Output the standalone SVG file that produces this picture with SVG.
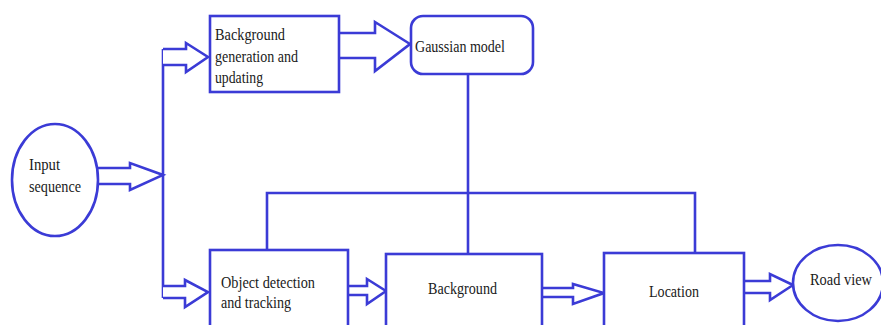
<svg xmlns="http://www.w3.org/2000/svg" width="881" height="325" viewBox="0 0 881 325">
  <style>
    .shape { fill: #ffffff; stroke: #3b3bd6; stroke-width: 2.6; }
    .wire { fill: none; stroke: #3b3bd6; stroke-width: 2.6; }
    .arrow { fill: #ffffff; stroke: #3b3bd6; stroke-width: 2.6; stroke-linejoin: miter; }
    text { font-family: 'Liberation Serif', 'DejaVu Serif', serif; font-size: 16px; fill: #1a1a1a; }
  </style>
  <rect width="881" height="325" fill="#ffffff"/>

  <!-- connectors: trunk lines and hollow block arrows -->
  <g id="connectors">
    <path class="wire" d="M163,49 V298"/>
    <path class="wire" d="M267,250 V193 H695 V253"/>
    <path class="wire" d="M468,74 V257"/>
    <path class="arrow" d="M98,168 H130 V163 L163,175 L130,190 V184 H98"/>
    <path class="arrow" d="M163,49 H186 V43 L208,57 L186,72 V65 H163"/>
    <path class="arrow" d="M339,33 H375 V22 L410,44 L375,71 V58 H339"/>
    <path class="arrow" d="M163,286 H185 V280 L208,292 L185,307 V298 H163"/>
    <path class="arrow" d="M348,286 H367 V279 L386,291 L367,304 V295 H348"/>
    <path class="arrow" d="M542,288 H573 V284 L604,293 L573,304 V297 H542"/>
    <path class="arrow" d="M744,281 H770 V274 L793,285 L770,300 V293 H744"/>
  </g>

  <g id="input-sequence">
    <ellipse class="shape" cx="55" cy="180" rx="43" ry="56"/>
    <text x="29" y="170" textLength="31" lengthAdjust="spacingAndGlyphs">Input</text>
    <text x="29" y="192" textLength="52" lengthAdjust="spacingAndGlyphs">sequence</text>
  </g>

  <g id="background-generation">
    <rect class="shape" x="210" y="16" width="129" height="76"/>
    <text x="215" y="40" textLength="70" lengthAdjust="spacingAndGlyphs">Background</text>
    <text x="215" y="62" textLength="83" lengthAdjust="spacingAndGlyphs">generation and</text>
    <text x="215" y="83" textLength="48" lengthAdjust="spacingAndGlyphs">updating</text>
  </g>

  <g id="gaussian-model">
    <rect class="shape" x="411" y="16" width="122" height="58" rx="12"/>
    <text x="415" y="52" textLength="90" lengthAdjust="spacingAndGlyphs">Gaussian model</text>
  </g>

  <g id="object-detection">
    <rect class="shape" x="210" y="250" width="138" height="82"/>
    <text x="221" y="288" textLength="94" lengthAdjust="spacingAndGlyphs">Object detection</text>
    <text x="221" y="308" textLength="70" lengthAdjust="spacingAndGlyphs">and tracking</text>
  </g>

  <g id="background">
    <rect class="shape" x="386" y="254" width="156" height="78"/>
    <text x="428" y="294" textLength="69" lengthAdjust="spacingAndGlyphs">Background</text>
  </g>

  <g id="location">
    <rect class="shape" x="604" y="253" width="140" height="79"/>
    <text x="649" y="297" textLength="50" lengthAdjust="spacingAndGlyphs">Location</text>
  </g>

  <g id="road-view">
    <ellipse class="shape" cx="838" cy="283" rx="45" ry="38"/>
    <text x="810" y="285" textLength="62" lengthAdjust="spacingAndGlyphs">Road view</text>
  </g>
</svg>
